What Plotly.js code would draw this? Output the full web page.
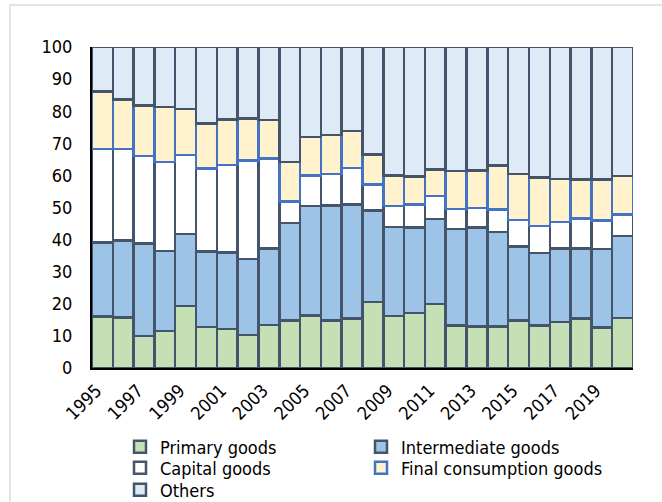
<!DOCTYPE html>
<html>
<head>
<meta charset="utf-8">
<script src="https://cdn.plot.ly/plotly-3.0.1.min.js"></script>
<style>
  html, body { margin: 0; padding: 0; background: #ffffff; }
  #wrap { position: relative; width: 662px; height: 502px; }
  #chart { width: 662px; height: 502px; }
  #frame {
    position: absolute; left: 9px; top: 4px; right: 0; bottom: 0;
    border-top: 2px solid #e3e3e3; border-left: 2px solid #e3e3e3;
    pointer-events: none;
  }
</style>
</head>
<body>
<div id="wrap">
  <div id="chart"></div>
  <div id="frame"></div>
</div>
<script>
// Share of each product group in total trade, per year (%)
const years = ['1995','1996','1997','1998','1999','2000','2001','2002','2003','2004',
               '2005','2006','2007','2008','2009','2010','2011','2012','2013','2014',
               '2015','2016','2017','2018','2019','2020'];

const primaryGoods      = [16.1,15.7, 9.9,11.6,19.3,12.8,12.1,10.3,13.4,14.8,
                           16.3,14.8,15.5,20.6,16.2,17.2,20.0,13.3,13.0,13.0,
                           14.8,13.2,14.3,15.4,12.6,15.6];
const intermediateGoods = [23.0,24.0,28.9,24.8,22.5,23.5,23.9,23.6,23.9,30.4,
                           34.2,35.9,35.4,28.5,27.7,26.6,26.4,30.0,30.7,29.4,
                           23.1,22.7,22.9,21.9,24.4,25.5];
const capitalGoods      = [29.2,28.6,27.2,27.8,24.6,25.9,27.2,30.8,27.9, 6.6,
                            9.4, 9.8,11.4, 8.1, 6.5, 7.1, 7.2, 6.3, 6.1, 7.0,
                            8.2, 8.3, 8.3, 9.3, 9.0, 6.7];
const finalConsumption  = [17.9,15.4,15.8,17.1,14.3,13.9,14.2,13.0,12.0,12.4,
                           12.1,12.1,11.5, 9.3, 9.6, 8.8, 8.2,11.7,11.8,13.7,
                           14.4,15.1,13.4,12.1,12.7,12.0];
const others            = [13.8,16.3,18.2,18.7,19.3,23.9,22.6,22.3,22.8,35.8,
                           28.0,27.4,26.2,33.5,40.0,40.3,38.2,38.7,38.4,36.9,
                           39.5,40.7,41.1,41.3,41.3,40.2];

const seriesNames = ['Primary goods','Intermediate goods','Capital goods',
                     'Final consumption goods','Others'];
const yearTicks = ['1995','1997','1999','2001','2003','2005','2007','2009',
                   '2011','2013','2015','2017','2019'];
const yTicks = [0,10,20,30,40,50,60,70,80,90,100];

const dark = '#44546a';
const blue = '#4472c4';
const FONT = 'DejaVu Sans Condensed, DejaVu Sans, sans-serif';
const FS = 18;

function barTrace(name, values, fill, edge, legendId) {
  return {
    type: 'bar', name: name, x: years, y: values,
    marker: { color: fill, line: { color: edge, width: 2.5 } },
    legend: legendId,
    hoverinfo: 'x+y+name'
  };
}

const data = [
  barTrace(seriesNames[0], primaryGoods,      '#c5e0b4', dark, 'legend'),
  barTrace(seriesNames[1], intermediateGoods, '#9dc3e6', dark, 'legend'),
  barTrace(seriesNames[2], capitalGoods,      '#ffffff', dark, 'legend2'),
  barTrace(seriesNames[3], finalConsumption,  '#fff2cc', blue, 'legend2'),
  barTrace(seriesNames[4], others,            '#deebf7', dark, 'legend3')
];

// one legend per row, two columns
function legendRow(yCenter) {
  return {
    orientation: 'h', traceorder: 'normal',
    xref: 'container', yref: 'container',
    x: 120 / 662, xanchor: 'left',
    y: 1 - yCenter / 502, yanchor: 'middle',
    entrywidth: 196, entrywidthmode: 'pixels',
    itemwidth: 30,
    font: { family: FONT, size: FS, color: '#000000' },
    bgcolor: 'rgba(0,0,0,0)', borderwidth: 0
  };
}

const layout = {
  width: 662, height: 502,
  margin: { l: 92, r: 29, t: 47, b: 134, pad: 0 },
  paper_bgcolor: 'rgba(0,0,0,0)',
  plot_bgcolor: '#ffffff',
  barmode: 'stack',
  bargap: 0,
  font: { family: FONT, size: FS, color: '#000000' },
  showlegend: true,
  legend: legendRow(447),
  legend2: legendRow(468),
  legend3: legendRow(490),
  xaxis: {
    type: 'category', automargin: false,
    tickmode: 'array', tickvals: yearTicks, ticktext: yearTicks,
    tickangle: -45,
    ticklabelshift: -6, ticklabelstandoff: 3,
    showline: true, linecolor: '#000000', linewidth: 2,
    showgrid: false, ticks: '', zeroline: false,
    tickfont: { family: FONT, size: FS, color: '#000000' }
  },
  yaxis: {
    range: [0, 100], tickmode: 'array', tickvals: yTicks, automargin: false,
    showline: true, linecolor: '#000000', linewidth: 2,
    showgrid: false, ticks: '', zeroline: false,
    ticklabelstandoff: 14,
    tickfont: { family: FONT, size: FS, color: '#000000' }
  }
};

Plotly.newPlot('chart', data, layout, { displayModeBar: false, staticPlot: true });
</script>
</body>
</html>
